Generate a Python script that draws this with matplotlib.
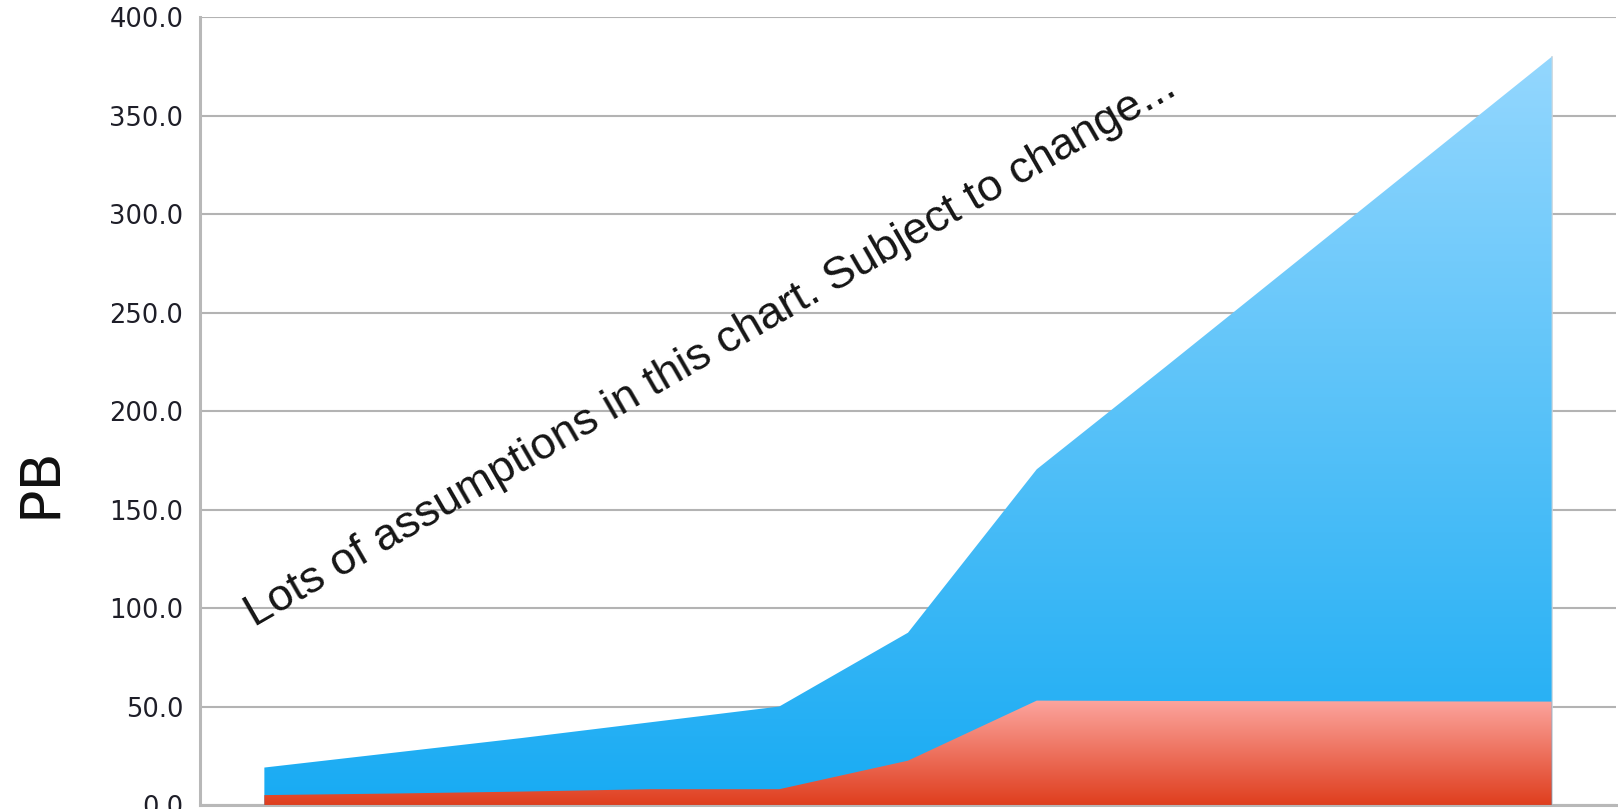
import matplotlib
matplotlib.use('Agg')
import matplotlib.pyplot as plt
import numpy as np
from matplotlib.colors import LinearSegmentedColormap

# 数据
periods = [0, 1, 2, 3, 4, 5, 6, 7, 8, 9, 10]
total_pb = [19, 26.5, 34, 42, 50, 87.5, 170.5, 222.5, 275, 327.5, 380]
red_pb = [5, 5.8, 6.8, 8, 8, 22.5, 53, 52.8, 52.7, 52.6, 52.5]
y_ticks = [0, 50, 100, 150, 200, 250, 300, 350, 400]
note = 'Lots of assumptions in this chart. Subject to change...'


# 渐变填充面积
def gradient_area(ax, x, y, c_bottom, c_top, zorder):
    poly = ax.fill_between(x, 0, y, facecolor='none', edgecolor='none', zorder=zorder)
    cmap = LinearSegmentedColormap.from_list('g', [c_bottom, c_top])
    grad = np.linspace(0, 1, 256).reshape(-1, 1)
    img = ax.imshow(grad, cmap=cmap, aspect='auto', origin='lower',
                    extent=[x[0], x[-1], 0, max(y)], zorder=zorder, interpolation='bilinear')
    img.set_clip_path(poly.get_paths()[0], transform=ax.transData)


fig = plt.figure(figsize=(16.18, 8.09), dpi=100)
ax = fig.add_axes([200 / 1618, 0.005, 1416 / 1618, 0.9734])

gradient_area(ax, periods, total_pb, '#18abf3', '#94d7fe', 3)
gradient_area(ax, periods, red_pb, '#df3e1e', '#fca59e', 4)

# 右侧边缘的淡阴影
ax.plot([periods[-1], periods[-1]], [0, total_pb[-1]], color='#c8d4dc', linewidth=1.2, zorder=2.5)

ax.set_xlim(-0.5, 10.5)
ax.set_ylim(0, 400)
ax.set_yticks(y_ticks)
ax.set_yticklabels([f'{v:.1f}' for v in y_ticks])
ax.set_xticks([])
ax.tick_params(axis='y', length=0, pad=12, labelsize=18.5, labelcolor='#1e1e28')

ax.yaxis.grid(True, color='#b3b3b3', linewidth=1.5, zorder=1)
ax.set_axisbelow(True)
for side in ['top', 'right']:
    ax.spines[side].set_visible(False)
for side in ['left', 'bottom']:
    ax.spines[side].set_color('#b8b8b8')
    ax.spines[side].set_linewidth(2.2)

fig.text(40 / 1618, 1 - 482 / 809, 'PB', rotation=90, fontsize=40,
         ha='center', va='center', color='#111111')

ax.text(-0.08, 90.5, note, rotation=30, rotation_mode='anchor', ha='left',
        va='baseline', fontsize=32.5, family='Liberation Sans', color='#151515', zorder=6)

plt.savefig('out.png', dpi=100)
plt.close()
